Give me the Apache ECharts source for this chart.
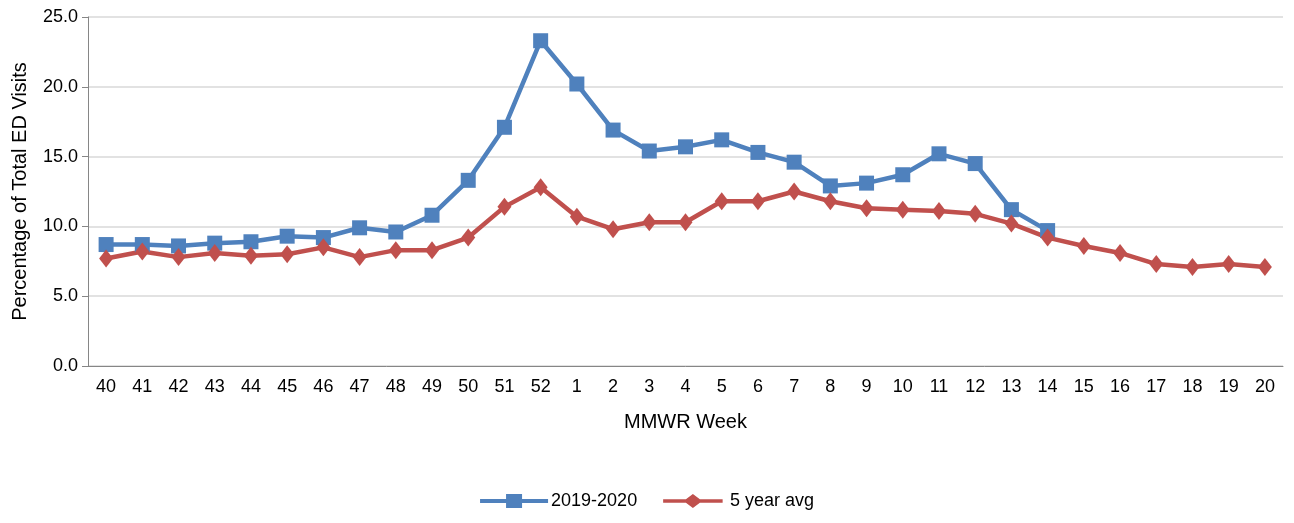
<!DOCTYPE html>
<html><head><meta charset="utf-8">
<script src="https://cdn.jsdelivr.net/npm/echarts@6/dist/echarts.min.js"></script>
<style>body{margin:0}#c{width:1294px;height:523px}</style></head>
<body><div id="c"></div>
<script>
var weeks=['40','41','42','43','44','45','46','47','48','49','50','51','52','1','2','3','4','5','6','7','8','9','10','11','12','13','14','15','16','17','18','19','20'];
var season=[8.7,8.7,8.6,8.8,8.9,9.3,9.2,9.9,9.6,10.8,13.3,17.1,23.3,20.2,16.9,15.4,15.7,16.2,15.3,14.6,12.9,13.1,13.7,15.2,14.5,11.2,9.7];
var avg5=[7.7,8.2,7.8,8.1,7.9,8.0,8.5,7.8,8.3,8.3,9.2,11.4,12.8,10.7,9.8,10.3,10.3,11.8,11.8,12.5,11.8,11.3,11.2,11.1,10.9,10.2,9.2,8.6,8.1,7.3,7.1,7.3,7.1];
var font='"Liberation Sans", Arial, sans-serif';
var chart=echarts.init(document.getElementById('c'));
chart.setOption({
  animation:false,
  grid:{left:88,right:11,top:17,bottom:157},
  legend:{bottom:8,left:'center',itemWidth:72,itemHeight:14,itemGap:26,
    textStyle:{fontFamily:font,fontSize:18,color:'#000',padding:[0,0,0,-4]},
    data:[{name:'2019-2020',icon:'path://M0,5h26v-5h16v5h26v4h-26v5h-16v-5h-26z'},{name:'5 year avg',icon:'path://M0,5h26l8,-6l8,6h26v4h-26l-8,6l-8,-6h-26z'}]},
  xAxis:{type:'category',data:weeks,name:'MMWR Week',nameLocation:'middle',nameGap:46,
    nameTextStyle:{fontSize:20,color:'#000',fontFamily:font},
    axisLine:{lineStyle:{color:'#868686'}},axisTick:{length:6,lineStyle:{color:'#868686'}},
    axisLabel:{fontSize:18,color:'#000',fontFamily:font,margin:12}},
  yAxis:{type:'value',min:0,max:25,interval:5,name:'Percentage of Total ED Visits',nameLocation:'middle',nameGap:58,
    nameTextStyle:{fontSize:20,color:'#000',fontFamily:font},
    axisLine:{show:true,lineStyle:{color:'#868686'}},axisTick:{show:true,length:6,lineStyle:{color:'#868686'}},
    splitLine:{lineStyle:{color:'#d9d9d9',width:1.5}},
    axisLabel:{fontSize:18,color:'#000',fontFamily:font,margin:10,formatter:function(v){return v.toFixed(1);}}},
  series:[
    {name:'2019-2020',type:'line',data:season,symbol:'rect',symbolSize:15,
      lineStyle:{color:'#4f81bd',width:4.5},itemStyle:{color:'#4f81bd'}},
    {name:'5 year avg',type:'line',data:avg5,symbol:'diamond',symbolSize:[14,18],
      lineStyle:{color:'#c0504d',width:4.5},itemStyle:{color:'#c0504d'}}
  ]
});
</script></body></html>
